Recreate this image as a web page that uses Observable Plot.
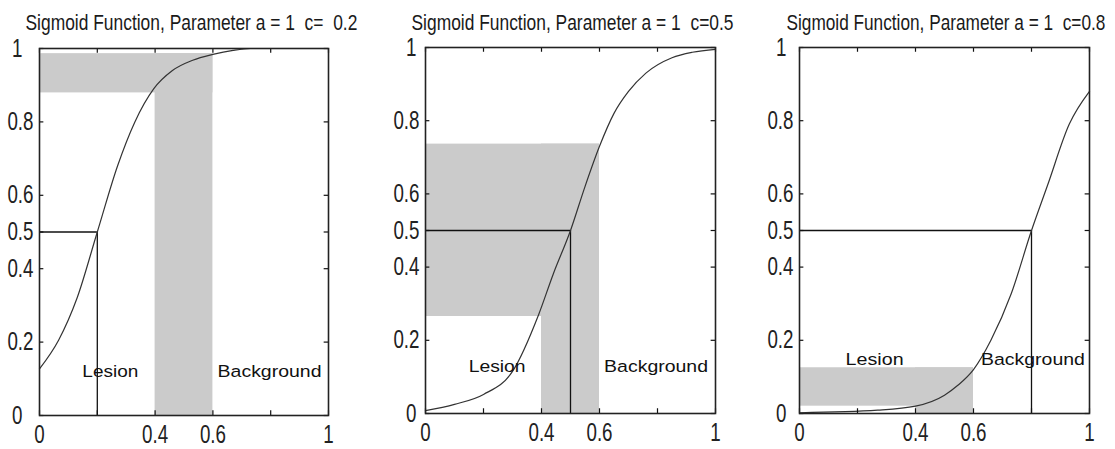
<!DOCTYPE html>
<html>
<head>
<meta charset="utf-8">
<script src="https://cdn.jsdelivr.net/npm/d3@7"></script>
<script src="https://cdn.jsdelivr.net/npm/@observablehq/plot@0.6"></script>
<style>
  html, body { margin: 0; padding: 0; background: white; }
  #wrap { position: relative; width: 1115px; height: 449px; overflow: hidden; }
  #wrap > div { position: absolute; top: 0; }
</style>
</head>
<body>
<div id="wrap"></div>
<script>
// ---- data ----
const titles = [
  "Sigmoid Function, Parameter a = 1  c=  0.2",
  "Sigmoid Function, Parameter a = 1  c=0.5",
  "Sigmoid Function, Parameter a = 1  c=0.8"
];
const cValues = [0.2, 0.5, 0.8];

const xTicks = [0, 0.2, 0.4, 0.6, 0.8, 1];
const xTickLabels = [0, 0.4, 0.6, 1];
const yTicks = [0, 0.2, 0.4, 0.5, 0.6, 0.8, 1];
const yTickLabelsInner = [0.2, 0.4, 0.5, 0.6, 0.8];
const yTickLabelsEnds = [0, 1];

const curve1X = [0, 0.066, 0.13, 0.2, 0.27, 0.33, 0.395, 0.46, 0.53, 0.6, 0.67, 0.73, 0.85, 1];
const curve1Y = [0.127, 0.205, 0.32, 0.5, 0.68, 0.8, 0.89, 0.94, 0.968, 0.984, 0.995, 1, 1, 1];
const curve2X = [0, 0.1, 0.2, 0.3, 0.39, 0.44, 0.5, 0.55, 0.6, 0.65, 0.7, 0.76, 0.85, 0.92, 1];
const curve2Y = [0.008, 0.025, 0.052, 0.115, 0.27, 0.38, 0.5, 0.62, 0.73, 0.82, 0.88, 0.93, 0.972, 0.987, 0.995];
const curve3X = [0, 0.27, 0.4, 0.5, 0.546, 0.6, 0.66, 0.73, 0.8, 0.856, 0.93, 1];
const curve3Y = [0.002, 0.009, 0.02, 0.05, 0.077, 0.12, 0.2, 0.327, 0.5, 0.625, 0.79, 0.88];

// shaded bands: [x1, x2, y1, y2]
const bands1 = [[0, 0.6, 0.879, 0.986], [0.4, 0.6, 0, 0.986]];
const bands2 = [[0, 0.6, 0.265, 0.736], [0.4, 0.6, 0, 0.736]];
const bands3 = [[0, 0.6, 0.02, 0.125], [0.4, 0.6, 0, 0.125]];

const labelNames = ["Lesion", "Background"];
const labels1 = [[0.245, 0.118], [0.796, 0.118]];
const labels2 = [[0.247, 0.127], [0.795, 0.127]];
const labels3 = [[0.259, 0.147], [0.805, 0.147]];

// ---- layout (styles/positions) ----
const panels = [
  {left: 0,   width: 360, ml: 39, mr: 32, mt: 48, mb: 34, titleDx: -14, titleLen: 332, endDx: -11,
   curveX: curve1X, curveY: curve1Y, bands: bands1, labels: labels1, lens: [56, 104]},
  {left: 380, width: 360, ml: 45, mr: 25, mt: 47, mb: 36, titleDx: -14, titleLen: 322, endDx: -3,
   curveX: curve2X, curveY: curve2Y, bands: bands2, labels: labels2, lens: [57, 104]},
  {left: 755, width: 360, ml: 44, mr: 26, mt: 47, mb: 36, titleDx: -13, titleLen: 319, endDx: -7,
   curveX: curve3X, curveY: curve3Y, bands: bands3, labels: labels3, lens: [58, 104]}
];

const wrap = document.getElementById("wrap");
const H = 449;
const tickLen = 0.013;
const titleBaseline = 29;

// scale a text element horizontally about its anchor point
function scaleText(t, sx) {
  const ax = parseFloat(t.getAttribute("x") || 0);
  const ay = parseFloat(t.getAttribute("y") || 0);
  const tr = t.getAttribute("transform") || "";
  t.setAttribute("transform", `${tr} translate(${ax},${ay}) scale(${sx},1) translate(${-ax},${-ay})`);
}

panels.forEach((p, i) => {
  const c = cValues[i];
  const curve = p.curveX.map((x, k) => ({x, y: p.curveY[k]}));
  const bands = p.bands.map(b => ({x1: b[0], x2: b[1], y1: b[2], y2: b[3]}));
  const labs = p.labels.map((l, k) => ({x: l[0], y: l[1], text: labelNames[k]}));
  const refH = [{x1: 0, x2: c, y: 0.5}];
  const refV = [{x: c, y1: 0, y2: 0.5}];

  const chart = Plot.plot({
    width: p.width,
    height: H,
    marginLeft: p.ml,
    marginRight: p.mr,
    marginTop: p.mt,
    marginBottom: p.mb,
    x: {domain: [0, 1]},
    y: {domain: [0, 1]},
    style: {fontFamily: "'Liberation Sans', Arial, sans-serif", background: "white", color: "#222"},
    marks: [
      Plot.rect(bands, {x1: "x1", x2: "x2", y1: "y1", y2: "y2", fill: "#cbcbcb"}),
      Plot.ruleY(refH, {x1: "x1", x2: "x2", y: "y", stroke: "#111", strokeWidth: 1.3}),
      Plot.ruleX(refV, {x: "x", y1: "y1", y2: "y2", stroke: "#111", strokeWidth: 1.3}),
      Plot.line(curve, {x: "x", y: "y", stroke: "#333", strokeWidth: 1.2, curve: "monotone-x"}),
      // inward ticks
      Plot.ruleX(xTicks, {x: d => d, y1: 0, y2: tickLen, stroke: "#111", strokeWidth: 1.2}),
      Plot.ruleX(xTicks, {x: d => d, y1: 1 - tickLen, y2: 1, stroke: "#111", strokeWidth: 1.2}),
      Plot.ruleY(yTicks, {y: d => d, x1: 0, x2: 0.015, stroke: "#111", strokeWidth: 1.2}),
      Plot.ruleY(yTicks, {y: d => d, x1: 0.985, x2: 1, stroke: "#111", strokeWidth: 1.2}),
      Plot.frame({stroke: "#222", strokeWidth: 1.6}),
      Plot.axisX(xTickLabels, {tickSize: 0, tickPadding: 10, fontSize: 25, tickFormat: d => String(d), fill: "#222"}),
      Plot.axisY(yTickLabelsInner, {tickSize: 0, tickPadding: 6, fontSize: 25, tickFormat: d => String(d), fill: "#222"}),
      Plot.axisY(yTickLabelsEnds, {tickSize: 0, tickPadding: 6 - p.endDx, fontSize: 25, tickFormat: d => String(d), fill: "#222"}),
      Plot.text(labs, {x: "x", y: "y", text: "text", fontSize: 16.5, fill: "#111"}),
      Plot.text([titles[i]], {frameAnchor: "top-left", text: d => d, textAnchor: "start", lineAnchor: "bottom",
        dx: p.titleDx, dy: titleBaseline - p.mt, fontSize: 22.5, fill: "#1a1a1a"})
    ]
  });

  const holder = document.createElement("div");
  holder.style.left = p.left + "px";
  holder.appendChild(chart);
  wrap.appendChild(holder);

  // condensed look for tick labels (MATLAB-style narrow font)
  chart.querySelectorAll('g[aria-label="x-axis tick label"] text, g[aria-label="y-axis tick label"] text').forEach(t => {
    const tr = t.getAttribute("transform") || "";
    t.setAttribute("transform", tr + " scale(0.75,1)");
  });
  // fit title and region labels to the widths seen in the reference
  chart.querySelectorAll("text").forEach(t => {
    const s = t.textContent;
    let len = null;
    if (s === titles[i]) len = p.titleLen;
    else if (s === "Lesion") len = p.lens[0];
    else if (s === "Background") len = p.lens[1];
    if (len) {
      const natural = t.getComputedTextLength();
      if (natural > 0) scaleText(t, len / natural);
    }
  });
});
</script>
</body>
</html>
